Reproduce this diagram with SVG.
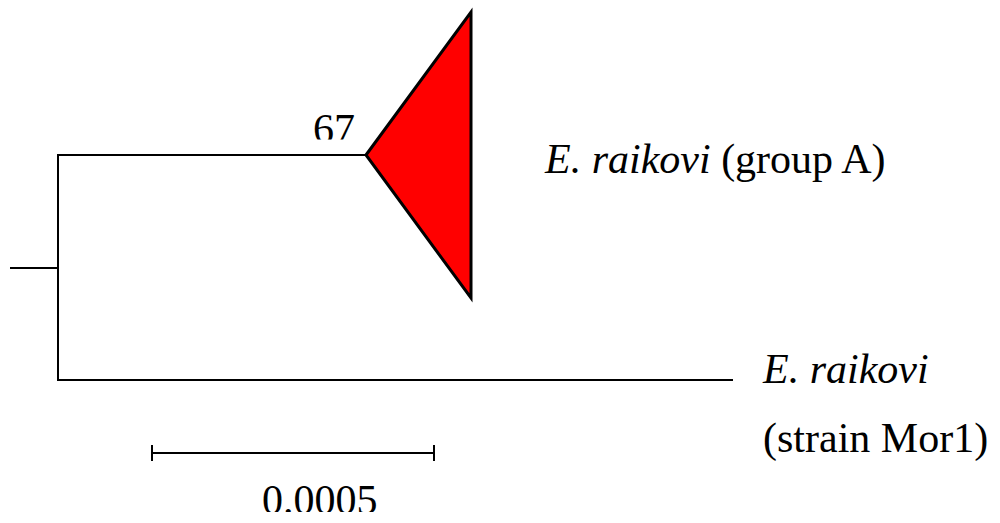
<svg xmlns="http://www.w3.org/2000/svg" width="1000" height="523" viewBox="0 0 1000 523">
<style>
.br{stroke:#000;stroke-width:2;fill:none}
.t{font-family:"Liberation Serif","Times New Roman",serif;font-size:42px;fill:#000}
.i{font-style:italic}
</style>
<defs>
<clipPath id="c67"><rect x="300" y="100" width="70" height="39.5"/></clipPath>
<clipPath id="cscale"><rect x="240" y="470" width="160" height="42"/></clipPath>
</defs>
<rect width="1000" height="523" fill="#fff"/>
<g id="connectors">
<line class="br" x1="10" y1="268" x2="58" y2="268"/>
<line class="br" x1="58" y1="154" x2="58" y2="381"/>
<line class="br" x1="57" y1="155" x2="366" y2="155"/>
<line class="br" x1="57" y1="380" x2="733" y2="380"/>
</g>
<g id="groupA">
<polygon points="366,155 471,12 471,298" fill="#ff0000" stroke="#000" stroke-width="3" stroke-linejoin="miter"/>
<text class="t" x="313" y="143" clip-path="url(#c67)">67</text>
<text class="t" x="545" y="173"><tspan class="i">E. raikovi</tspan> (group A)</text>
</g>
<g id="mor1">
<text class="t i" x="763" y="383">E. raikovi</text>
<text class="t" x="763" y="452">(strain Mor1)</text>
</g>
<g id="scale">
<line class="br" x1="151" y1="453" x2="435" y2="453"/>
<line class="br" x1="152" y1="445" x2="152" y2="461"/>
<line class="br" x1="434" y1="445" x2="434" y2="461"/>
<text class="t" x="262" y="514" clip-path="url(#cscale)">0.0005</text>
</g>
</svg>
